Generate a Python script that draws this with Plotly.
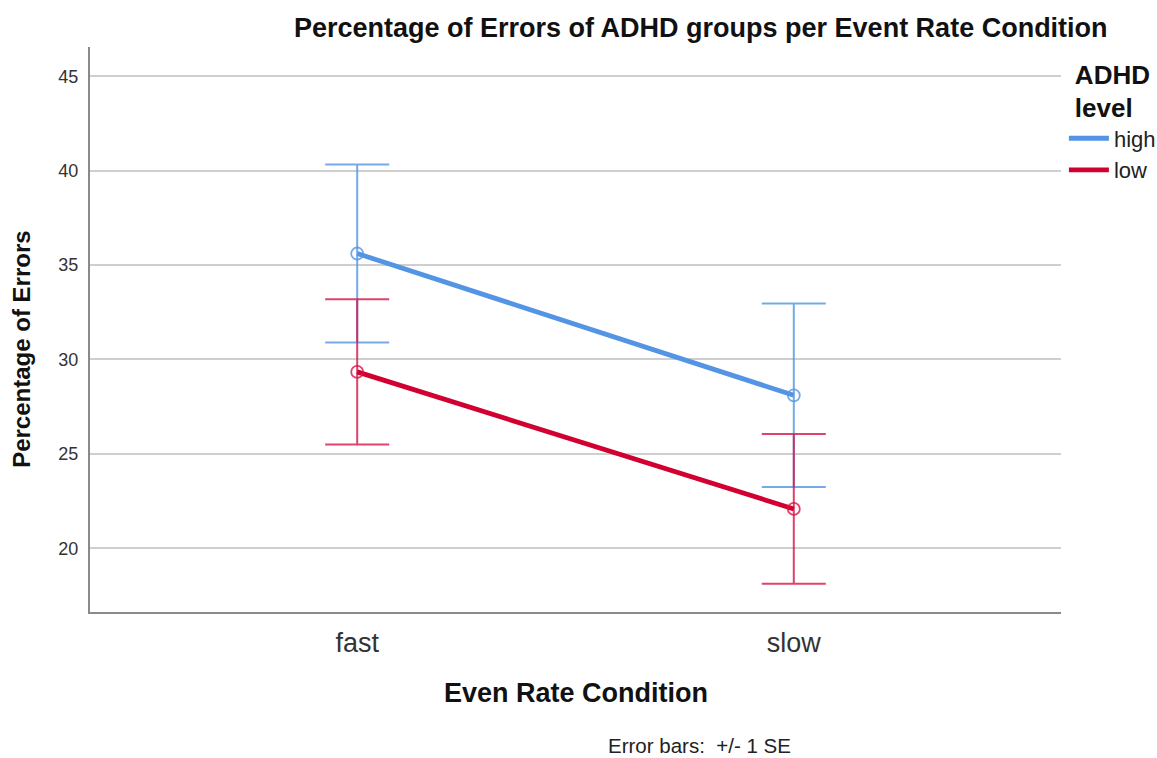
import plotly.graph_objects as go

# Event rate conditions and group means (percentage of errors) with standard errors
conditions = ["fast", "slow"]
groups = ["high", "low"]
high_mean = [35.61, 28.10]
high_se = [4.71, 4.86]
low_mean = [29.34, 22.08]
low_se = [3.85, 3.97]
y_ticks = [20, 25, 30, 35, 40, 45]

FONT = "Liberation Sans"
BLUE = "rgb(84,148,228)"
BLUE_ERR = "rgba(84,148,228,0.8)"
RED = "rgb(210,0,48)"
RED_ERR = "rgba(215,20,70,0.8)"

series = [
    ("high", high_mean, high_se, BLUE, BLUE_ERR),
    ("low", low_mean, low_se, RED, RED_ERR),
]

fig = go.Figure()

for name, means, ses, color, err_color in series:
    fig.add_trace(go.Scatter(
        x=conditions, y=means, mode="lines+markers", name=name,
        line=dict(color=color, width=4.8),
        marker=dict(symbol="circle-open", size=12, color=err_color,
                    line=dict(width=1.8, color=err_color)),
        error_y=dict(type="data", array=ses, visible=True,
                     color=err_color, thickness=2, width=32),
        showlegend=False,
    ))

# Legend entries show only the line sample
for name, means, ses, color, err_color in series:
    fig.add_trace(go.Scatter(
        x=[None], y=[None], mode="lines", name=name,
        line=dict(color=color, width=4.8), showlegend=True,
    ))

fig.update_layout(
    width=1157, height=758,
    margin=dict(l=90, r=96, t=47, b=146, autoexpand=False),
    paper_bgcolor="white", plot_bgcolor="white",
    font=dict(family=FONT, color="#222"),
    legend=dict(
        x=1.003, xanchor="left", xref="paper", y=0.995, yanchor="top",
        title=dict(text="<b>ADHD<br>level</b>", side="top center",
                   font=dict(size=26, family=FONT, color="#111")),
        font=dict(size=22, family=FONT, color="#222"),
        tracegroupgap=0, itemwidth=40,
    ),
    xaxis=dict(
        type="category", range=[-0.612, 1.612],
        showgrid=False, showline=True, linecolor="#8a8a8a", linewidth=2,
        ticks="outside", ticklen=6, tickcolor="rgba(0,0,0,0)",
        tickfont=dict(size=27, family=FONT, color="#333"),
        zeroline=False,
    ),
    yaxis=dict(
        range=[16.62, 46.55], tickvals=y_ticks,
        showgrid=True, gridcolor="#cfcfcf", gridwidth=2,
        showline=True, linecolor="#8a8a8a", linewidth=2,
        ticks="outside", ticklen=6, tickcolor="rgba(0,0,0,0)",
        tickfont=dict(size=18, family=FONT, color="#333"),
        zeroline=False,
    ),
    annotations=[
        dict(text="<b>Percentage of Errors of ADHD groups per Event Rate Condition</b>",
             xref="paper", yref="paper", x=0.629, y=1.0, yshift=19,
             xanchor="center", yanchor="middle", showarrow=False,
             font=dict(size=27, family=FONT, color="#111")),
        dict(text="<b>Even Rate Condition</b>",
             xref="paper", yref="paper", x=0.5, y=0, yshift=-81,
             xanchor="center", yanchor="middle", showarrow=False,
             font=dict(size=27, family=FONT, color="#111")),
        dict(text="<b>Percentage of Errors</b>",
             xref="paper", yref="paper", x=0, xshift=-68, y=0.464,
             xanchor="center", yanchor="middle", textangle=-90, showarrow=False,
             font=dict(size=24, family=FONT, color="#111")),
        dict(text="Error bars:  +/- 1 SE",
             xref="paper", yref="paper", x=0.628, y=0, yshift=-133,
             xanchor="center", yanchor="middle", showarrow=False, borderpad=0,
             font=dict(size=20.5, family=FONT, color="#222")),
    ],
)

fig.write_html("out.html")
